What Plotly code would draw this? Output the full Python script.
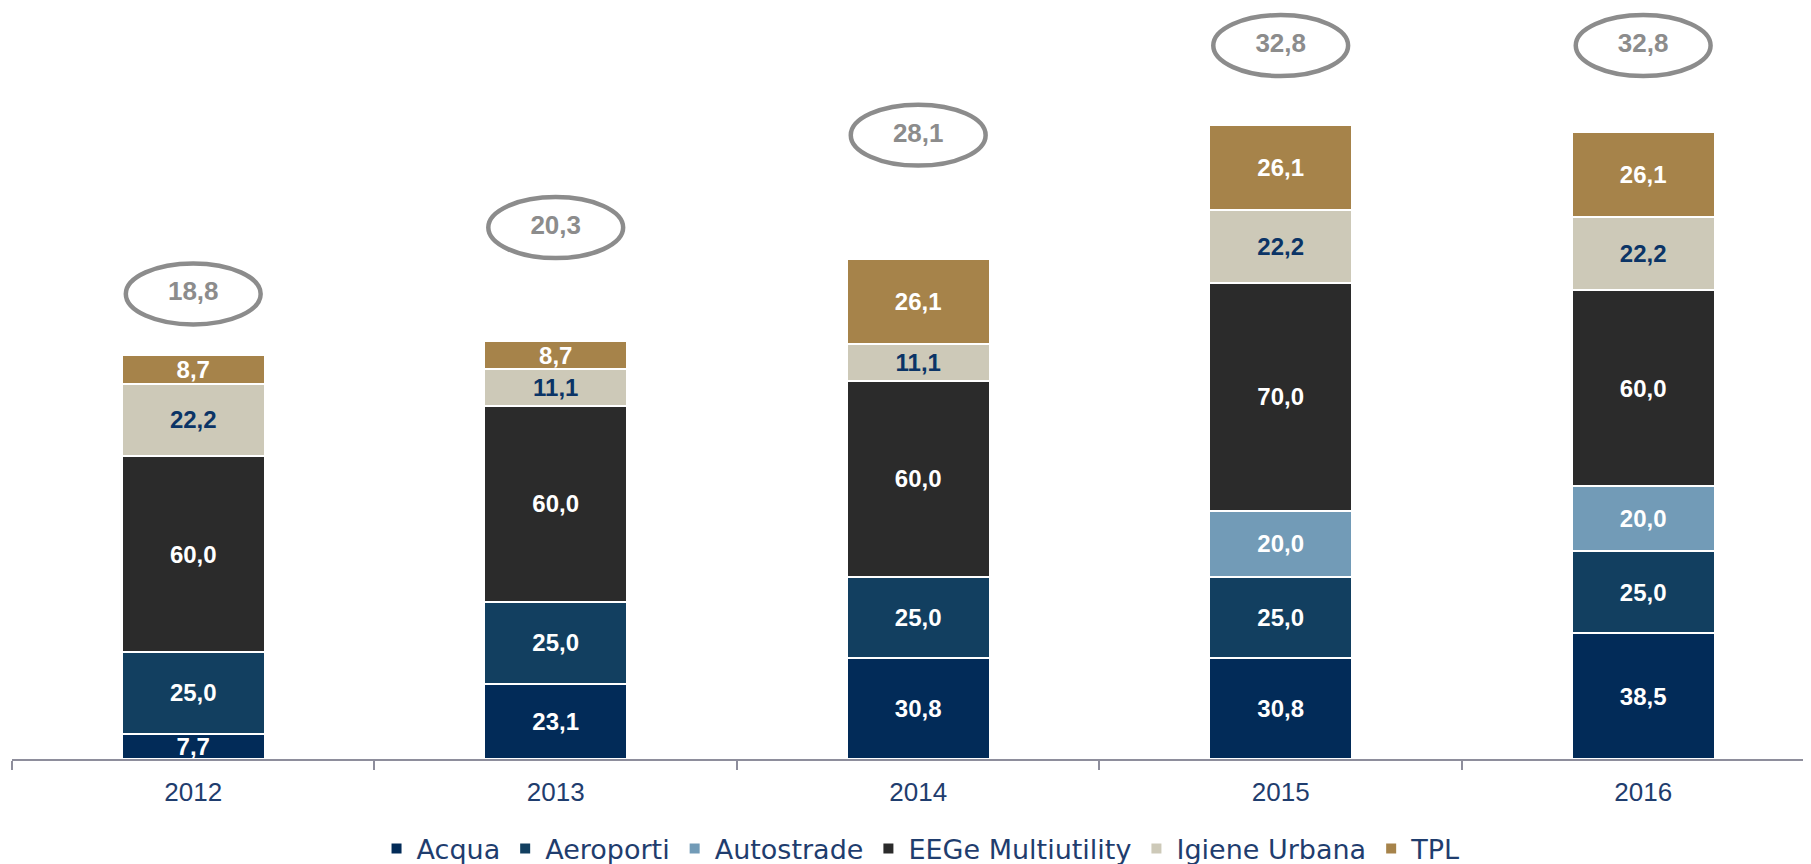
import plotly.graph_objects as go

years = ["2012", "2013", "2014", "2015", "2016"]
acqua = [7.7, 23.1, 30.8, 30.8, 38.5]
aeroporti = [25.0, 25.0, 25.0, 25.0, 25.0]
autostrade = [0, 0, 0, 20.0, 20.0]
eege = [60.0, 60.0, 60.0, 70.0, 60.0]
igiene = [22.2, 11.1, 11.1, 22.2, 22.2]
tpl = [8.7, 8.7, 26.1, 26.1, 26.1]
totals = [18.8, 20.3, 28.1, 32.8, 32.8]
total_label_y = [142.3, 162.6, 190.9, 218.3, 218.3]

series = [
    ("Acqua", acqua, "#022b58", "white"),
    ("Aeroporti", aeroporti, "#123f60", "white"),
    ("Autostrade", autostrade, "#729bb7", "white"),
    ("EEGe Multiutility", eege, "#2b2b2b", "white"),
    ("Igiene Urbana", igiene, "#cdc9b8", "#0b3466"),
    ("TPL", tpl, "#a6834a", "white"),
]

fig = go.Figure()
for name, vals, color, tcolor in series:
    fig.add_trace(go.Bar(
        name=name, x=years, y=vals, width=0.395,
        marker=dict(color=color, line=dict(color="white", width=2)),
        text=[(f"{v:.1f}".replace(".", ",") if v else "") for v in vals],
        textposition="inside", insidetextanchor="middle", textangle=0,
        textfont=dict(family="Liberation Sans", size=24, color=tcolor, weight="bold"),
        hoverinfo="skip",
    ))

hw, hh = 0.186, 9.33
for i, yy in enumerate(total_label_y):
    fig.add_shape(type="circle", xref="x", yref="y", layer="below",
                  x0=i - hw, x1=i + hw, y0=yy - hh, y1=yy + hh,
                  line=dict(color="#8c8c8c", width=4.5), fillcolor="rgba(0,0,0,0)")

fig.add_trace(go.Scatter(
    x=years, y=total_label_y, mode="text",
    text=[f"{t:.1f}".replace(".", ",") for t in totals],
    textposition="middle center",
    textfont=dict(family="Liberation Sans", size=26, color="#8c8c8c", weight="bold"),
    showlegend=False, hoverinfo="skip", cliponaxis=False,
))

fig.update_layout(
    barmode="stack",
    width=1803, height=856,
    margin=dict(l=4, r=0, t=0, b=105),
    paper_bgcolor="white", plot_bgcolor="white",
    separators=",.",
    uniformtext=dict(minsize=24, mode="show"),
    showlegend=True,
    legend=dict(orientation="h", x=0.5053, xanchor="center",
                yref="container", y=0.0175, yanchor="middle",
                font=dict(family="DejaVu Sans", size=27, color="#1f3d6e"),
                itemwidth=30, traceorder="normal"),
    xaxis=dict(type="category", range=[-0.5, 4.463], showgrid=False,
               showline=True, linecolor="#8e8e9c", linewidth=2,
               ticks="outside", tickson="boundaries", ticklen=9, tickcolor="#8e8e9c", tickwidth=2,
               ticklabelstandoff=9,
               tickfont=dict(family="Liberation Sans", size=26, color="#1f3d6e")),
    yaxis=dict(range=[0, 229.8], visible=False, showgrid=False, zeroline=False),
)

fig.write_html("out.html")
